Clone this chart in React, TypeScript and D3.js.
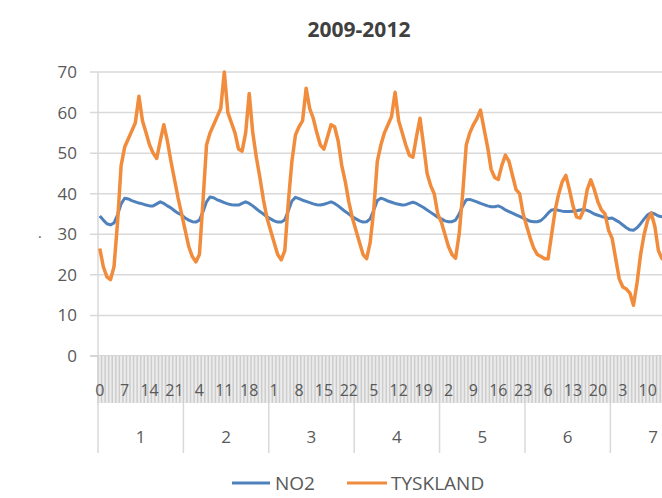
import React from "react";
import * as d3 from "d3";

const title = "2009-2012";
const days = ["1", "2", "3", "4", "5", "6", "7"];
const hoursPerDay = 24;
const yTicks = [0, 10, 20, 30, 40, 50, 60, 70];
const seriesNames = ["NO2", "TYSKLAND"];

const no2 = [
  34.5, 33.5, 32.6, 32.3, 32.8, 34.8, 37.5, 38.9, 38.7, 38.3, 38, 37.7, 37.5, 37.2, 37, 37, 37.5, 38, 37.6, 37, 36.5, 35.8, 35.2, 34.8,
  34, 33.5, 33.1, 33, 33.5, 35.5, 38, 39.2, 39, 38.5, 38.2, 37.8, 37.5, 37.3, 37.2, 37.2, 37.6, 38, 37.6, 37, 36.3, 35.6, 35, 34.3,
  33.8, 33.3, 33, 33, 33.6, 35.8, 38.2, 39.1, 38.8, 38.4, 38.1, 37.8, 37.5, 37.3, 37.2, 37.4, 37.7, 38, 37.6, 37, 36.3, 35.6, 35, 34.3,
  33.8, 33.3, 33, 33.1, 33.8, 36, 38.3, 38.9, 38.6, 38.2, 37.9, 37.6, 37.4, 37.2, 37.3, 37.6, 37.9, 37.6, 37.1, 36.6, 36, 35.4, 34.8, 34.2,
  33.8, 33.3, 33.1, 33.1, 33.5, 35, 37, 38.5, 38.6, 38.3, 38, 37.6, 37.3, 37, 36.8, 36.8, 37, 36.6, 36, 35.6, 35.2, 34.8, 34.4, 34,
  33.6, 33.2, 33.1, 33.1, 33.4, 34.2, 35.2, 36, 36.1, 35.9, 35.7, 35.6, 35.6, 35.7, 35.8, 36, 36.1, 35.9, 35.5, 35, 34.7, 34.4, 34.2, 33.9,
  34, 33.5, 33, 32.3, 31.6, 31.1, 31, 31.6, 32.6, 33.8, 34.8, 35.3, 35, 34.5, 34.3, 34.4, 34.6, 34.7, 34.5, 34.2, 33.9, 33.6, 33.2, 32.8,
];

const tyskland = [
  26.5, 22, 19.5, 18.8, 22, 33, 47, 51.5, 53.5, 55.5, 57.5, 64, 58, 55, 52, 50, 48.7, 53, 57, 53, 48, 43.5, 39, 35,
  31, 27, 24.5, 23.2, 25, 38, 52, 55, 57, 59, 61, 70, 60, 57.5, 55, 51, 50.5, 55, 64.7, 55, 49, 44, 38.5, 34,
  31, 28, 25, 23.7, 26, 38, 48, 54.5, 56.5, 58, 66, 61, 58.6, 55, 52, 51, 54, 57, 56.5, 53, 47, 43, 38, 34,
  31, 28, 25, 24, 28, 36, 48, 52, 55, 57, 59, 65, 58, 55, 52, 49.5, 49, 54, 58.6, 52, 45, 42, 40, 35,
  33, 30, 27, 25, 24.1, 30, 40, 52, 55, 57, 58.5, 60.6, 56, 51.5, 46, 44, 43.5, 47, 49.5, 48, 44.5, 41, 40, 35,
  32, 29, 26.5, 25, 24.5, 24, 24, 30, 36, 40, 43, 44.5, 41, 37, 34.3, 34, 36, 41, 43.4, 41, 38, 36, 35, 31,
  29, 24, 19, 17, 16.5, 15.5, 12.5, 18, 25, 30, 33.5, 35.2, 32, 26, 24, 26, 30, 40, 45, 47, 46, 42, 38, 33,
];

const W = 662;
const H = 498;
const FONT = "'Open Sans', 'Liberation Sans', sans-serif";
const TEXT = "#595959";
const GRID = "#d9d9d9";
const BLUE = "#4f81bd";
const ORANGE = "#f08c3c";

export default function App() {
  const n = days.length * hoursPerDay;
  const x = d3.scaleLinear().domain([0, n]).range([98, 98 + n * 3.558]);
  const y = d3.scaleLinear().domain([0, 70]).range([356, 72]);
  const line = d3
    .line<number>()
    .x((_, i) => x(i + 0.5))
    .y((v) => y(v))
    .curve(d3.curveLinear);
  const idx = d3.range(n);
  const hourLabels = idx.filter((i) => i % 7 === 0);
  const axisY = y(0);
  const band = 47;

  return (
    <svg
      width={W}
      height={H}
      style={{ position: "absolute", left: 0, top: 0, background: "#fff" }}
      fontFamily={FONT}
    >
      <text x={359} y={37} textAnchor="middle" fontSize={21} fontWeight="bold" fill="#404040">
        {title}
      </text>
      {yTicks.map((t) => (
        <g key={t}>
          <line x1={90} x2={W + 50} y1={y(t)} y2={y(t)} stroke={t === 0 ? "#c8c8c8" : GRID} strokeWidth={1.5} />
          <text x={77} y={y(t)} dy="0.35em" textAnchor="end" fontSize={17} fill={TEXT}>
            {t}
          </text>
        </g>
      ))}
      <text x={38} y={238} fontSize={14} fill={TEXT}>.</text>
      <line x1={98} x2={98} y1={y(70)} y2={axisY} stroke={GRID} strokeWidth={1.5} />
      <rect x={x(0)} y={axisY} width={W - x(0)} height={band} fill="#ececec" />
      {d3.range(n + 1).map((i) => (
        <line key={"t" + i} x1={x(i)} x2={x(i)} y1={axisY} y2={axisY + band} stroke="#cdcdcd" strokeWidth={1.5} />
      ))}
      {hourLabels.map((i) => (
        <text key={"h" + i} x={x(i + 0.5)} y={390} dy="0.35em" textAnchor="middle" fontSize={16} fill={TEXT}>
          {i % hoursPerDay}
        </text>
      ))}
      {days.map((d, k) => (
        <g key={"d" + d}>
          <line
            x1={x(k * hoursPerDay)}
            x2={x(k * hoursPerDay)}
            y1={axisY + band}
            y2={453}
            stroke={GRID}
            strokeWidth={1.5}
          />
          <text x={x(k * hoursPerDay + 12)} y={437} dy="0.35em" textAnchor="middle" fontSize={17} fill={TEXT}>
            {d}
          </text>
        </g>
      ))}
      <path d={line(no2) || ""} fill="none" stroke={BLUE} strokeWidth={3} strokeLinejoin="round" />
      <path d={line(tyskland) || ""} fill="none" stroke={ORANGE} strokeWidth={3.5} strokeLinejoin="round" />
      <g>
        <line x1={232} x2={270} y1={483} y2={483} stroke={BLUE} strokeWidth={3} />
        <text x={275} y={483} dy="0.35em" fontSize={19} fill={TEXT}>
          {seriesNames[0]}
        </text>
        <line x1={347} x2={387} y1={483} y2={483} stroke={ORANGE} strokeWidth={3} />
        <text x={391} y={483} dy="0.35em" fontSize={19} fill={TEXT}>
          {seriesNames[1]}
        </text>
      </g>
    </svg>
  );
}
